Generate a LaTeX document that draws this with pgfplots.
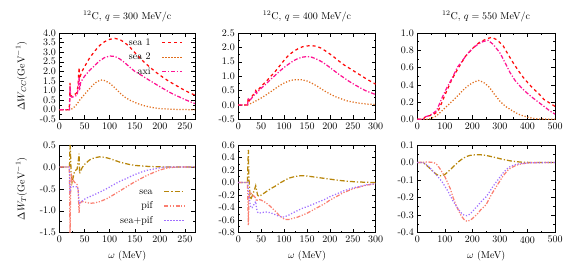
\documentclass[border=0pt]{standalone}
\usepackage{pgfplots}
\pgfplotsset{compat=1.18}
\definecolor{cSeaA}{RGB}{255,10,10}
\definecolor{cSeaB}{RGB}{225,110,30}
\definecolor{cAxi}{RGB}{255,20,147}
\definecolor{cSea}{RGB}{184,134,11}
\definecolor{cPif}{RGB}{250,128,114}
\definecolor{cSP}{RGB}{160,112,255}
\pgfplotsset{
  gp/.style={scale only axis, anchor=south west, tick align=inside,
    minor x tick num=1, minor y tick num=1,
    major tick length=4pt, minor tick length=2pt,
    every tick/.style={black, line width=0.5pt},
    axis line style={line width=0.6pt},
    /pgf/number format/assume math mode=true,
    yticklabel style={/pgf/number format/.cd, fixed, fixed zerofill, precision=1, assume math mode=true},
    xticklabel style={/pgf/number format/.cd, fixed, assume math mode=true},
    title style={at={(axis description cs:0.5,1)}, anchor=base, yshift=7.5pt},
    legend cell align=right, legend plot pos=right,
    legend image code/.code={\draw[##1] (0pt,0pt) -- (20pt,0pt);},
  },
  sea1/.style={cSeaA, line width=1.25pt, dash pattern=on 3pt off 3pt},
  sea2/.style={cSeaB, line width=1.25pt, dash pattern=on 1.2pt off 1.8pt},
  axi/.style={cAxi, line width=1.25pt, dash pattern=on 4pt off 1.8pt on 1.2pt off 1.8pt},
  seaT/.style={cSea, line width=1.25pt, dash pattern=on 5pt off 2pt on 1.2pt off 2pt},
  pif/.style={cPif, line width=1.25pt, dash pattern=on 4pt off 1.6pt on 1.2pt off 1.6pt on 1.2pt off 1.6pt},
  sp/.style={cSP, line width=1.25pt, dash pattern=on 1.2pt off 1.8pt},
  lgd/.style={legend style={draw=none, fill=none, inner sep=0pt, outer sep=0pt,
      at={(axis description cs:#1)}, anchor=north east, row sep=5.5pt, column sep=11pt,
      nodes={inner sep=0pt, text height=7pt, text depth=2pt}}},
}
\begin{document}
\begin{tikzpicture}
\useasboundingbox (0pt,0pt) rectangle (568pt,273pt);
% ---------------- top left
\begin{axis}[gp, at={(59.5pt,153.7pt)}, width=135.5pt, height=86.3pt,
  xmin=0, xmax=270, ymin=-0.5, ymax=4,
  xtick={0,50,100,150,200,250}, ytick={-0.5,0,0.5,1,1.5,2,2.5,3,3.5,4},
  title={$^{12}$C, $q=300$ MeV/c},
  ylabel={$\Delta W_{CC}(\mathrm{GeV}^{-1})$},
  ylabel style={at={(axis description cs:-0.28,0.5)}, anchor=center},
  lgd={0.911,0.94}]
\addplot[sea1] coordinates {(0,0)(19,0)(20,0.3)(21,1.4)(22,0.75)(25,0.7)(30,0.78)(35,0.9)(37,1.3)(39,2.2)(40,1.6)(42,1.8)(45,2.0)(50,2.25)(60,2.7)(70,3.05)(80,3.35)(90,3.55)(100,3.67)(110,3.72)(120,3.66)(130,3.5)(140,3.27)(150,2.98)(160,2.7)(170,2.45)(180,2.22)(190,2.0)(200,1.8)(210,1.62)(220,1.45)(230,1.3)(240,1.15)(250,1.0)(260,0.87)(270,0.76)};
\addlegendentry{sea 1}
\addplot[sea2] coordinates {(0,0)(22,0)(25,0.05)(30,0.15)(35,0.3)(40,0.5)(45,0.65)(50,0.8)(60,1.1)(70,1.38)(80,1.53)(85,1.55)(90,1.52)(100,1.38)(110,1.15)(120,0.88)(130,0.66)(140,0.5)(150,0.38)(160,0.28)(170,0.2)(180,0.14)(190,0.09)(200,0.06)(220,0.03)(240,0.01)(270,0)};
\addlegendentry{sea 2}
\addplot[axi] coordinates {(0,0)(20,0)(21,1.25)(22,0.7)(25,0.65)(30,0.7)(35,0.75)(37,1.1)(39,1.7)(40,1.0)(42,1.4)(45,1.55)(50,1.75)(60,2.05)(70,2.3)(80,2.55)(90,2.72)(100,2.8)(110,2.78)(120,2.65)(130,2.45)(140,2.22)(150,2.0)(160,1.85)(170,1.68)(180,1.52)(190,1.36)(200,1.2)(210,1.05)(220,0.9)(230,0.77)(240,0.65)(250,0.53)(260,0.42)(270,0.32)};
\addlegendentry{axi}
\end{axis}
% ---------------- top middle
\begin{axis}[gp, at={(238.3pt,153.7pt)}, width=137.4pt, height=86.3pt,
  xmin=0, xmax=300, ymin=-0.5, ymax=2.5,
  xtick={0,50,100,150,200,250,300}, ytick={-0.5,0,0.5,1,1.5,2,2.5},
  title={$^{12}$C, $q=400$ MeV/c}]
\addplot[sea1] coordinates {(0,0)(19,0)(20,0.05)(22,0.25)(24,0.15)(30,0.3)(35,0.4)(38,0.5)(40,0.45)(45,0.55)(50,0.65)(60,0.8)(70,0.98)(80,1.15)(90,1.35)(100,1.55)(110,1.73)(120,1.85)(130,1.95)(140,2.02)(150,2.05)(160,2.06)(170,2.04)(180,1.98)(190,1.88)(200,1.77)(210,1.65)(220,1.52)(230,1.4)(240,1.3)(250,1.2)(260,1.1)(270,1.0)(280,0.9)(290,0.81)(300,0.72)};
\addplot[sea2] coordinates {(0,0)(20,0)(25,0.03)(30,0.07)(40,0.15)(50,0.24)(60,0.34)(70,0.45)(80,0.56)(90,0.67)(100,0.76)(110,0.83)(120,0.87)(135,0.88)(140,0.87)(150,0.83)(160,0.76)(170,0.67)(180,0.57)(190,0.47)(200,0.38)(210,0.3)(220,0.24)(230,0.18)(240,0.13)(250,0.1)(260,0.07)(270,0.05)(280,0.03)(300,0.01)};
\addplot[axi] coordinates {(0,0)(20,0)(22,0.2)(25,0.15)(30,0.25)(35,0.35)(38,0.45)(40,0.4)(45,0.5)(50,0.58)(60,0.72)(70,0.88)(80,1.02)(90,1.17)(100,1.3)(110,1.42)(120,1.53)(130,1.61)(140,1.66)(150,1.68)(160,1.66)(170,1.6)(180,1.52)(190,1.42)(200,1.3)(210,1.18)(220,1.06)(230,0.95)(240,0.84)(250,0.74)(260,0.65)(270,0.56)(280,0.48)(290,0.42)(300,0.36)};
\end{axis}
% ---------------- top right
\begin{axis}[gp, at={(417.3pt,153.7pt)}, width=137.7pt, height=86.3pt,
  xmin=0, xmax=500, ymin=0, ymax=1,
  xtick={0,100,200,300,400,500}, ytick={0,0.2,0.4,0.6,0.8,1.0},
  title={$^{12}$C, $q=550$ MeV/c}]
\addplot[sea1] coordinates {(0,0)(20,0)(30,0.03)(40,0.04)(50,0.045)(60,0.06)(75,0.09)(90,0.2)(100,0.28)(110,0.35)(125,0.46)(150,0.6)(175,0.73)(200,0.82)(225,0.89)(250,0.93)(270,0.95)(290,0.92)(312,0.85)(330,0.75)(349,0.65)(370,0.55)(386,0.48)(405,0.41)(423,0.35)(440,0.3)(460,0.23)(480,0.19)(500,0.15)};
\addplot[sea2] coordinates {(0,0)(40,0)(50,0.01)(70,0.04)(90,0.1)(110,0.16)(130,0.22)(152,0.29)(170,0.35)(189,0.4)(205,0.43)(222,0.45)(240,0.43)(262,0.37)(280,0.29)(300,0.21)(320,0.15)(337,0.115)(355,0.08)(374,0.05)(400,0.025)(423,0.01)(450,0.003)(500,0)};
\addplot[axi] coordinates {(0,0)(20,0)(30,0.03)(40,0.04)(53,0.06)(70,0.1)(90,0.25)(108,0.37)(127,0.48)(145,0.6)(164,0.68)(182,0.76)(201,0.82)(220,0.87)(238,0.9)(257,0.915)(275,0.87)(300,0.77)(318,0.66)(337,0.54)(355,0.45)(374,0.38)(393,0.32)(411,0.27)(435,0.21)(460,0.15)(480,0.1)(500,0.06)};
\end{axis}
% ---------------- bottom left
\begin{axis}[gp, at={(59.5pt,40.3pt)}, width=135.5pt, height=87.7pt,
  xmin=0, xmax=270, ymin=-1.5, ymax=0.5,
  xtick={0,50,100,150,200,250}, ytick={-1.5,-1,-0.5,0,0.5},
  ylabel={$\Delta W_{T}(\mathrm{GeV}^{-1})$},
  ylabel style={at={(axis description cs:-0.28,0.5)}, anchor=center},
  xlabel={$\omega$ (MeV)},
  xlabel style={at={(axis description cs:0.5,0)}, anchor=center, yshift=-23pt},
  lgd={0.926,0.52}]
\addplot[seaT] coordinates {(0,0)(20,0)(21,0.5)(22,0.3)(23,-0.1)(25,-0.35)(28,-0.2)(30,-0.1)(35,-0.05)(37,0.1)(39,0.3)(40,-0.15)(42,-0.1)(45,-0.02)(50,0.06)(60,0.16)(70,0.21)(80,0.23)(90,0.22)(100,0.19)(110,0.15)(120,0.11)(130,0.08)(140,0.055)(150,0.035)(170,0.015)(190,0.005)(210,0)(270,0)};
\addlegendentry{sea}
\addplot[pif] coordinates {(0,0)(19,0)(20,-0.2)(21,-1.6)(22,-0.6)(24,-0.2)(27,-0.3)(30,-0.35)(35,-0.4)(37,-0.5)(39,-1.05)(40,-0.85)(44,-0.79)(50,-0.8)(61,-0.83)(70,-0.82)(81,-0.79)(95,-0.72)(107,-0.64)(120,-0.55)(134,-0.45)(147,-0.36)(160,-0.28)(173,-0.2)(187,-0.13)(200,-0.07)(213,-0.03)(226,-0.01)(240,0)(270,0)};
\addlegendentry{pif}
\addplot[sp] coordinates {(0,0)(20,0)(21,-0.6)(22,-0.45)(25,-0.45)(30,-0.45)(35,-0.45)(37,-0.5)(39,-0.8)(40,-0.82)(45,-0.78)(52,-0.72)(60,-0.68)(70,-0.63)(81,-0.57)(95,-0.49)(107,-0.41)(120,-0.33)(134,-0.26)(147,-0.19)(160,-0.13)(173,-0.08)(187,-0.05)(200,-0.02)(213,0)(270,0)};
\addlegendentry{sea+pif}
\end{axis}
% ---------------- bottom middle
\begin{axis}[gp, at={(238.3pt,40.3pt)}, width=137.4pt, height=87.7pt,
  xmin=0, xmax=300, ymin=-0.8, ymax=0.6,
  xtick={0,50,100,150,200,250,300}, ytick={-0.8,-0.6,-0.4,-0.2,0,0.2,0.4,0.6},
  xlabel={$\omega$ (MeV)},
  xlabel style={at={(axis description cs:0.5,0)}, anchor=center, yshift=-23pt}]
\addplot[seaT] coordinates {(0,0)(20,0)(21,0.3)(22,0.52)(23,0.1)(25,-0.15)(27,-0.27)(30,-0.22)(35,-0.12)(38,-0.05)(40,-0.12)(42,-0.2)(45,-0.22)(50,-0.2)(60,-0.15)(70,-0.1)(80,-0.06)(90,-0.01)(100,0.03)(110,0.07)(120,0.09)(130,0.105)(140,0.11)(150,0.105)(160,0.095)(170,0.085)(180,0.075)(190,0.065)(200,0.055)(220,0.035)(240,0.02)(260,0.01)(280,0.005)(300,0)};
\addplot[pif] coordinates {(0,0)(20,0)(21,-0.3)(22,-0.68)(23,-0.3)(25,-0.15)(28,-0.17)(30,-0.2)(35,-0.22)(38,-0.25)(40,-0.3)(42,-0.27)(45,-0.27)(50,-0.28)(60,-0.32)(70,-0.38)(80,-0.45)(90,-0.53)(100,-0.58)(105,-0.59)(110,-0.59)(120,-0.57)(130,-0.55)(140,-0.52)(150,-0.49)(160,-0.45)(170,-0.41)(180,-0.37)(190,-0.33)(200,-0.28)(210,-0.24)(220,-0.2)(230,-0.16)(240,-0.13)(250,-0.1)(260,-0.08)(270,-0.06)(280,-0.04)(290,-0.03)(300,-0.02)};
\addplot[sp] coordinates {(0,0)(20,0)(21,0)(22,-0.16)(23,-0.2)(25,-0.3)(27,-0.4)(30,-0.4)(35,-0.34)(38,-0.3)(40,-0.42)(42,-0.47)(45,-0.49)(50,-0.48)(60,-0.47)(70,-0.48)(80,-0.51)(90,-0.54)(100,-0.55)(110,-0.52)(120,-0.48)(130,-0.445)(140,-0.41)(150,-0.385)(160,-0.355)(170,-0.325)(180,-0.295)(190,-0.265)(200,-0.225)(210,-0.195)(220,-0.165)(230,-0.132)(240,-0.11)(250,-0.085)(260,-0.07)(270,-0.053)(280,-0.035)(290,-0.027)(300,-0.02)};
\end{axis}
% ---------------- bottom right
\begin{axis}[gp, at={(417.3pt,40.3pt)}, width=137.7pt, height=87.7pt,
  xmin=0, xmax=500, ymin=-0.4, ymax=0.1,
  xtick={0,100,200,300,400,500}, ytick={-0.4,-0.3,-0.2,-0.1,0,0.1},
  xlabel={$\omega$ (MeV)},
  xlabel style={at={(axis description cs:0.5,0)}, anchor=center, yshift=-23pt}]
\addplot[seaT] coordinates {(0,0)(20,0)(30,-0.01)(40,-0.025)(50,-0.04)(60,-0.055)(70,-0.068)(80,-0.075)(90,-0.075)(100,-0.068)(110,-0.055)(120,-0.04)(130,-0.025)(140,-0.01)(150,0.005)(160,0.017)(170,0.027)(180,0.035)(190,0.04)(200,0.043)(220,0.045)(240,0.043)(260,0.037)(280,0.03)(300,0.022)(320,0.015)(340,0.009)(360,0.005)(380,0.002)(400,0.001)(420,0)(500,0)};
\addplot[pif] coordinates {(0,0)(40,0.003)(60,0)(70,-0.01)(80,-0.03)(90,-0.055)(100,-0.08)(110,-0.115)(120,-0.15)(130,-0.2)(140,-0.24)(150,-0.275)(160,-0.305)(170,-0.325)(180,-0.335)(190,-0.33)(200,-0.32)(210,-0.305)(220,-0.29)(230,-0.27)(240,-0.255)(250,-0.24)(260,-0.21)(270,-0.18)(280,-0.155)(290,-0.13)(300,-0.105)(310,-0.08)(320,-0.06)(330,-0.042)(340,-0.03)(360,-0.015)(380,-0.007)(400,-0.003)(420,-0.001)(440,0)(500,0)};
\addplot[sp] coordinates {(0,0)(20,0)(30,-0.008)(40,-0.022)(50,-0.038)(60,-0.055)(70,-0.072)(80,-0.09)(90,-0.11)(100,-0.135)(110,-0.16)(120,-0.19)(130,-0.22)(140,-0.245)(150,-0.268)(160,-0.288)(170,-0.3)(180,-0.303)(190,-0.295)(200,-0.28)(210,-0.262)(220,-0.245)(230,-0.226)(240,-0.21)(250,-0.195)(260,-0.173)(270,-0.147)(280,-0.125)(290,-0.104)(300,-0.083)(310,-0.062)(320,-0.045)(330,-0.03)(340,-0.021)(360,-0.01)(380,-0.005)(400,-0.002)(420,-0.001)(500,0)};
\end{axis}
\end{tikzpicture}
\end{document}
